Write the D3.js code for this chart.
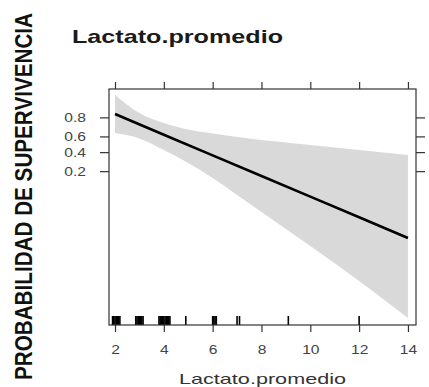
<!DOCTYPE html>
<html>
<head>
<meta charset="utf-8">
<script src="https://cdn.jsdelivr.net/npm/d3@7"></script>
<style>
  body { margin: 0; background: #fff; }
  svg { display: block; font-family: "Liberation Sans", Arial, sans-serif; }
</style>
</head>
<body>
<div id="chart"></div>
<script>
// effect of Lactato.promedio on survival probability (logit scale)
const xTicks = [2, 4, 6, 8, 10, 12, 14];
const yTicks = [0.2, 0.4, 0.6, 0.8];

const fitX = [2, 4, 6, 8, 10, 12, 14];
const fitP = [0.826, 0.621, 0.361, 0.163, 0.063, 0.0226, 0.0079];

const bandX = [2, 3, 4, 5, 6, 7, 8, 10, 12, 14];
const bandUpper = [0.927, 0.833, 0.749, 0.681, 0.635, 0.592, 0.555, 0.490, 0.426, 0.365];
const bandLower = [0.641, 0.574, 0.426, 0.276, 0.149, 0.0681, 0.0295, 0.00525, 0.000868, 0.000129];

// observed values (rug)
const rugValues = [1.9, 1.95, 2, 2.05, 2.1, 2.15, 2.2,
    2.85, 2.9, 2.95, 3, 3.05, 3.1, 3.15,
    3.8, 3.85, 3.9, 3.95, 4, 4.05, 4.1, 4.15, 4.2, 4.25,
    4.9, 6, 6.05, 6.1, 6.15, 7, 7.1, 9.1, 12];

const width = 429, height = 387;
const panel = { left: 109, right: 416, top: 89, bottom: 325 };

const logit = p => Math.log(p / (1 - p));

const svg = d3.select("#chart").append("svg")
    .attr("width", width)
    .attr("height", height);

const xScale = d3.scaleLinear().domain([1.754, 14.33]).range([panel.left, panel.right]);
const yScale = d3.scaleLinear().domain([-9.32, 2.85]).range([panel.bottom, panel.top]);

// stretch text horizontally like the source image
function widen(sel, k) {
    sel.each(function () {
        const w = this.getComputedTextLength();
        d3.select(this).attr("textLength", w * k).attr("lengthAdjust", "spacingAndGlyphs");
    });
}

// band
const band = bandX.map((x, i) => ({ x: x, lo: bandLower[i], hi: bandUpper[i] }));
svg.append("path")
    .datum(band)
    .attr("fill", "#d9d9d9")
    .attr("d", d3.area()
        .curve(d3.curveMonotoneX)
        .x(d => xScale(d.x))
        .y0(d => yScale(logit(d.lo)))
        .y1(d => yScale(logit(d.hi))));

// fitted line
const fit = fitX.map((x, i) => ({ x: x, p: fitP[i] }));
svg.append("path")
    .datum(fit)
    .attr("fill", "none")
    .attr("stroke", "#000")
    .attr("stroke-width", 2.6)
    .attr("d", d3.line().x(d => xScale(d.x)).y(d => yScale(logit(d.p))));

// rug
svg.selectAll("line.rug")
    .data(rugValues)
    .enter()
    .append("line")
    .attr("class", "rug")
    .attr("x1", d => xScale(d)).attr("x2", d => xScale(d))
    .attr("y1", panel.bottom).attr("y2", panel.bottom - 9)
    .attr("stroke", "#000")
    .attr("stroke-width", 1.6);

// panel box
svg.append("rect")
    .attr("x", panel.left).attr("y", panel.top)
    .attr("width", panel.right - panel.left)
    .attr("height", panel.bottom - panel.top)
    .attr("fill", "none")
    .attr("stroke", "#333")
    .attr("stroke-width", 1.2);

// axes
svg.append("g")
    .attr("transform", `translate(0, ${panel.bottom})`)
    .call(d3.axisBottom(xScale).tickValues(xTicks).tickSize(7).tickPadding(13));

svg.append("g")
    .attr("transform", `translate(0, ${panel.top})`)
    .call(d3.axisTop(xScale).tickValues(xTicks).tickSize(7).tickFormat(""));

svg.append("g")
    .attr("transform", `translate(${panel.left}, 0)`)
    .call(d3.axisLeft(yScale).tickValues(yTicks.map(logit)).tickSize(9).tickPadding(14)
        .tickFormat(v => d3.format(".1f")(1 / (1 + Math.exp(-v)))));

svg.append("g")
    .attr("transform", `translate(${panel.right}, 0)`)
    .call(d3.axisRight(yScale).tickValues(yTicks.map(logit)).tickSize(9).tickFormat(""));

svg.selectAll(".domain").remove();
svg.selectAll(".tick line").attr("stroke", "#333").attr("stroke-width", 1.2);
svg.selectAll(".tick text")
    .attr("font-family", "'Liberation Sans', Arial, sans-serif")
    .attr("font-size", 13)
    .attr("fill", "#444")
    .call(widen, 1.2);

// titles
svg.append("text")
    .attr("x", 72).attr("y", 43)
    .attr("font-size", 19)
    .attr("font-weight", "bold")
    .attr("fill", "#1a1a1a")
    .text("Lactato.promedio")
    .attr("textLength", 211)
    .attr("lengthAdjust", "spacingAndGlyphs");

svg.append("text")
    .attr("x", (panel.left + panel.right) / 2).attr("y", 384)
    .attr("text-anchor", "middle")
    .attr("font-size", 15)
    .attr("fill", "#333")
    .text("Lactato.promedio")
    .attr("textLength", 167)
    .attr("lengthAdjust", "spacingAndGlyphs");

svg.append("text")
    .attr("transform", "translate(32, 196.5) scale(1.16, 1) rotate(-90)")
    .attr("text-anchor", "middle")
    .attr("font-size", 20)
    .attr("font-weight", "bold")
    .attr("fill", "#111")
    .text("PROBABILIDAD DE SUPERVIVENCIA")
    .attr("textLength", 367)
    .attr("lengthAdjust", "spacingAndGlyphs");
</script>
</body>
</html>
